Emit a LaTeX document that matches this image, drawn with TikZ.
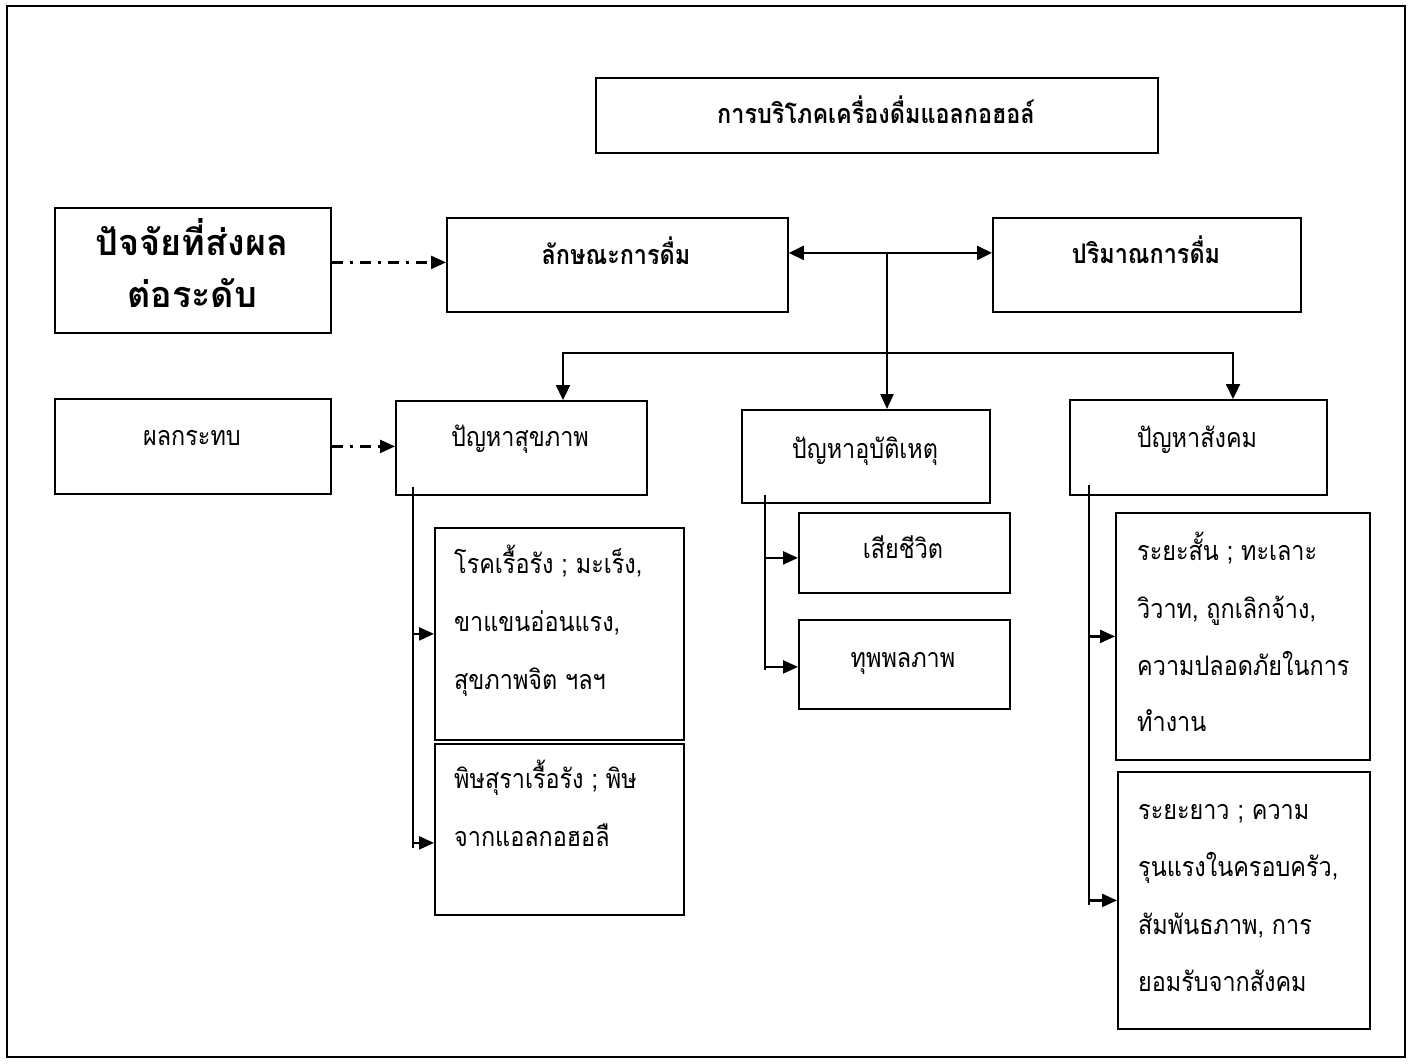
\documentclass[tikz,border=0pt]{standalone}
\usepackage{fontspec}
\newfontfamily\thai[Script=Thai]{Loma}
\usetikzlibrary{arrows.meta}
\newcommand\vst[1]{\scalebox{1}[1.15]{#1}}
\begin{document}
\begin{tikzpicture}[x=1pt,y=-1pt,
  box/.style={draw, line width=1.8pt, inner sep=0pt, anchor=north west},
  txt/.style={inner sep=0pt, anchor=base, font=\thai\fontsize{23.4}{28}\selectfont},
  btxt/.style={txt, font=\thai\bfseries\fontsize{23.4}{28}\selectfont},
  ltxt/.style={txt, anchor=base west},
  conn/.style={line width=2.3pt},
  thinconn/.style={line width=1.5pt},
  arr/.style={conn, -{Triangle[length=15pt,width=13pt]}},
  darr/.style={conn, {Triangle[length=15pt,width=14pt]}-{Triangle[length=15pt,width=14pt]}},
  dashdotarr/.style={arr, dash pattern=on 11pt off 7pt on 3pt off 7pt}
]
\useasboundingbox (0,0) rectangle (1413,1063);
% outer frame
\draw[line width=1.5pt] (7,6) rectangle (1405,1057);

% boxes
\node[box, minimum width=562pt, minimum height=75pt] (title) at (595,77) {};
\node[box, minimum width=276pt, minimum height=125pt] (factor) at (54,207) {};
\node[box, minimum width=341pt, minimum height=94pt] (lak) at (446,217) {};
\node[box, minimum width=308pt, minimum height=94pt] (pari) at (992,217) {};
\node[box, minimum width=276pt, minimum height=95pt] (impact) at (54,398) {};
\node[box, minimum width=251pt, minimum height=94pt] (health) at (395,400) {};
\node[box, minimum width=248pt, minimum height=93pt] (acc) at (741,409) {};
\node[box, minimum width=257pt, minimum height=95pt] (soc) at (1069,399) {};
\node[box, minimum width=249pt, minimum height=212pt] (h1) at (434,527) {};
\node[box, minimum width=249pt, minimum height=171pt] (h2) at (434,743) {};
\node[box, minimum width=211pt, minimum height=80pt] (a1) at (798,512) {};
\node[box, minimum width=211pt, minimum height=89pt] (a2) at (798,619) {};
\node[box, minimum width=254pt, minimum height=247pt] (s1) at (1115,512) {};
\node[box, minimum width=252pt, minimum height=257pt] (s2) at (1117,771) {};

% texts
\node[btxt] (tTitle) at (876,123) {\vst{การบริโภคเครื่องดื่มแอลกอฮอล์}};
\node[txt, font=\thai\bfseries\fontsize{36}{42}\selectfont] (tF1) at (192,255) {ปัจจัยที่ส่งผล};
\node[txt, font=\thai\bfseries\fontsize{36}{42}\selectfont] (tF2) at (192,307) {ต่อระดับ};
\node[btxt] (tLak) at (616,264) {\vst{ลักษณะการดื่ม}};
\node[btxt] (tPari) at (1146,263) {\vst{ปริมาณการดื่ม}};
\node[txt] (tImpact) at (192,445) {\vst{ผลกระทบ}};
\node[txt] (tHealth) at (520,446) {\vst{ปัญหาสุขภาพ}};
\node[txt] (tAcc) at (865,458) {\vst{ปัญหาอุบัติเหตุ}};
\node[txt] (tSoc) at (1197,447) {\vst{ปัญหาสังคม}};
\node[txt] (tA1) at (903,558) {\vst{เสียชีวิต}};
\node[txt] (tA2) at (903,667) {\vst{ทุพพลภาพ}};
\node[ltxt] (tH11) at (454,573) {\vst{โรคเรื้อรัง ; มะเร็ง,}};
\node[ltxt] (tH12) at (454,631) {\vst{ขาแขนอ่อนแรง,}};
\node[ltxt] (tH13) at (454,689) {\vst{สุขภาพจิต ฯลฯ}};
\node[ltxt] (tH21) at (454,788) {\vst{พิษสุราเรื้อรัง ; พิษ}};
\node[ltxt] (tH22) at (454,846) {\vst{จากแอลกอฮอลื}};
\node[ltxt] (tS11) at (1137,560) {\vst{ระยะสั้น ; ทะเลาะ}};
\node[ltxt] (tS12) at (1137,618) {\vst{วิวาท, ถูกเลิกจ้าง,}};
\node[ltxt] (tS13) at (1137,675) {\vst{ความปลอดภัยในการ}};
\node[ltxt] (tS14) at (1137,731) {\vst{ทำงาน}};
\node[ltxt] (tS21) at (1138,819) {\vst{ระยะยาว ; ความ}};
\node[ltxt] (tS22) at (1138,876) {\vst{รุนแรงในครอบครัว,}};
\node[ltxt] (tS23) at (1138,934) {\vst{สัมพันธภาพ, การ}};
\node[ltxt] (tS24) at (1138,991) {\vst{ยอมรับจากสังคม}};

% connectors
\draw[dashdotarr] ([yshift=8pt]factor.east) -- ([yshift=8pt]factor.east -| lak.west);
\draw[dashdotarr] (impact.east) -- (impact.east -| health.west);
\draw[darr] ([yshift=12pt]lak.east) -- ([yshift=12pt]lak.east -| pari.west);
\coordinate (j) at (887,252);
\draw[arr] (j) -- (j |- acc.north);
\coordinate (busL) at (563,353);
\coordinate (busR) at (1233,353);
\draw[darr] (busL |- health.north) -- (busL) -- (busR) -- (busR |- soc.north);

% entry points on child boxes
\coordinate (h2in) at ([yshift=-13.5pt]h2.west);
\coordinate (a1in) at ([yshift=-5pt]a1.west);
\coordinate (a2in) at ([yshift=-2.5pt]a2.west);

% health branch
\coordinate (hv) at (413,487);
\draw[thinconn] (hv) -- (413,848);
\draw[arr] (hv |- h1.west) -- (h1.west);
\draw[arr] (hv |- h2in) -- (h2in);
% accident branch
\coordinate (av) at (765,495);
\draw[thinconn] (av) -- (765,670);
\draw[arr] (av |- a1in) -- (a1in);
\draw[arr] (av |- a2in) -- (a2in);
% social branch
\coordinate (sv) at (1089,485);
\draw[thinconn] (sv) -- (1089,905);
\draw[arr] (sv |- s1.west) -- (s1.west);
\draw[arr] (sv |- s2.west) -- (s2.west);
\end{tikzpicture}
\end{document}
